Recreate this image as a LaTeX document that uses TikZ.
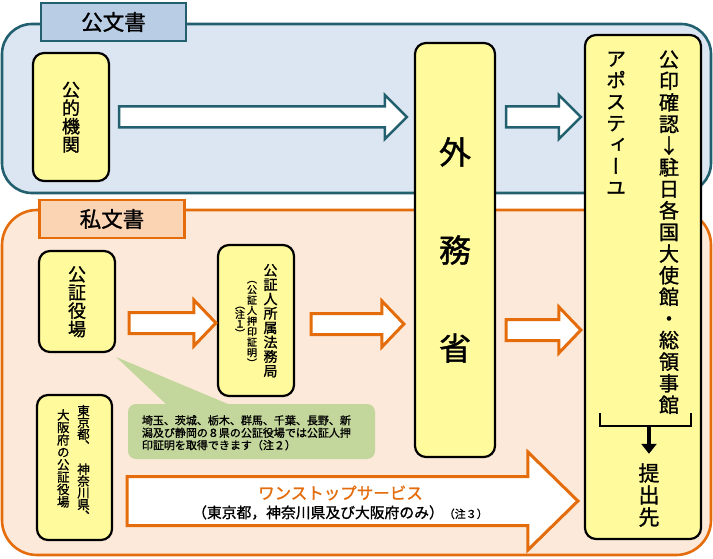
\documentclass[tikz,border=0pt]{standalone}
\usepackage{fontspec}
\setmainfont{Noto Sans CJK JP}[FakeBold=1.2]
\newfontfamily\tatefont[RawFeature=+vert,FakeBold=1.2]{Noto Sans CJK JP}
\usepackage{xcolor}
\usetikzlibrary{calc,arrows.meta}
\definecolor{tealline}{HTML}{23606F}
\definecolor{pubfill}{HTML}{DCE6F2}
\definecolor{pubtab}{HTML}{B9CDE5}
\definecolor{prifill}{HTML}{FDE9D9}
\definecolor{pritab}{HTML}{FBD4B4}
\definecolor{orangeline}{HTML}{E46C0A}
\definecolor{boxfill}{HTML}{FFFA9C}
\definecolor{notegreen}{HTML}{C3D69B}
\makeatletter
\newcommand\tate[2]{\vbox{\offinterlineskip\@tfor\tch:=#2\do{\hbox to 1.2em{\hss\rule[-.5\dimexpr#1\relax]{0pt}{#1}\raisebox{-.38em}{\smash{\tch}}\hss}}}}
\makeatother
\newcommand\blockarrow[6]{\draw[#1] let \p1=#2, \p2=#3 in
  (\x1,\y2+#4) -- (\x2-#6,\y2+#4) -- (\x2-#6,\y2+#5) -- (\x2,\y2)
  -- (\x2-#6,\y2-#5) -- (\x2-#6,\y2-#4) -- (\x1,\y2-#4) -- cycle;}
\begin{document}
\begin{tikzpicture}[x=1pt,y=-1pt,
  panel/.style={line width=2.6pt,inner sep=0pt},
  tab/.style={line width=2.6pt,minimum width=145pt,minimum height=38pt,inner sep=0pt,font=\fontsize{21.5}{21.5}\selectfont},
  ybox/.style={draw=black,fill=boxfill,line width=2.2pt,rounded corners=11pt,inner sep=0pt},
  tatetext/.style={inner sep=0pt,font=\tatefont\fontsize{#1}{#1}\selectfont},
  bluearr/.style={draw=tealline,fill=white,line width=2.5pt},
  orarr/.style={draw=orangeline,fill=white,line width=3pt}]
	\useasboundingbox (0,0) rectangle (713,559);
	% panels
	\node[panel,draw=tealline,fill=pubfill,rounded corners=30pt,minimum width=709pt,minimum height=169pt] (pub) at (356.5,108.5) {};
	\node[panel,draw=orangeline,fill=prifill,rounded corners=35pt,minimum width=709pt,minimum height=345pt] (pri) at (356.5,382.5) {};
	\node[tab,draw=tealline,fill=pubtab] (pubtab) at (113.5,22) {公文書};
	\node[tab,draw=orangeline,fill=pritab] (pritab) at (112,219) {私文書};
	% callout
	\node[fill=notegreen,rounded corners=8pt,minimum width=247pt,minimum height=55pt] (note) at (251.5,431.5) {};
	\coordinate (notetip) at (116,357);
	\fill[notegreen] (notetip) -- ($(note.north west)+(39,1)$) -- ($(note.north west)+(102,1)$) -- cycle;
	\node[anchor=west,align=left,inner sep=0pt,font=\fontsize{11}{12.4}\selectfont] (notetext) at (141.7,432.8) {埼玉、茨城、栃木、群馬、千葉、長野、新\\潟及び静岡の８県の公証役場では公証人押\\印証明を取得できます（注２）};
	% boxes
	\node[ybox,tatetext=18,minimum width=76pt,minimum height=128pt] (kikan) at (71,117) {\tate{18.3pt}{公的機関}};
	\node[ybox,tatetext=32,minimum width=80pt,minimum height=414pt] (gaimu) at (455,250) {\tate{98pt}{外務省}};
	\node[ybox,minimum width=116pt,minimum height=504pt] (apo) at (643,287) {};
	\node[ybox,tatetext=18,minimum width=76pt,minimum height=101pt] (koshou) at (77,301.5) {\tate{18.3pt}{公証役場}};
	\node[ybox,minimum width=76pt,minimum height=151pt] (homu) at (256,320.5) {};
	\node[ybox,minimum width=75pt,minimum height=145pt] (tokyo) at (74.5,467.5) {};
	% vertical texts
	\node[tatetext=14] (homu1) at (270.5,320.5) {\tate{14.4pt}{公証人所属法務局}};
	\node[tatetext=10] (homu2) at (252,321) {\tate{10.5pt}{（公証人押印証明）}};
	\node[tatetext=10] (homu3) at (240,319) {\tate{9.5pt}{（注１）}};
	\node[tatetext=12.5] (tokyo1) at (83.5,463.4) {\tate{11.7pt}{東京都、{}神奈川県、}};
	\node[tatetext=12.5] (tokyo2) at (63.3,458.4) {\tate{12.4pt}{大阪府の公証役場}};
	\node[tatetext=20] (apo1) at (669,232) {\tate{21.6pt}{公印確認{\rmfamily ↓}駐日各国大使館・総領事館}};
	\node[tatetext=20] (apo2) at (616,123) {\tate{21.5pt}{アポスティーユ}};
	\node[tatetext=21] (teishutsu) at (649,495) {\tate{22pt}{提出先}};
	% bracket
	\coordinate (brl) at (600,413);
	\coordinate (brr) at (691,413);
	\coordinate (brm) at (649,426);
	\draw[line width=2.5pt] (brl) -- ++(0,13) -| (brr);
	\draw[line width=4pt,-{Triangle[width=15pt,length=10pt]},shorten >=8pt] (brm) -- (teishutsu.north);
	% arrows
	\blockarrow{bluearr}{($(kikan.east)+(9,0)$)}{($(gaimu.west |- kikan.east)+(-7,0)$)}{10.5pt}{22pt}{22pt}
	\blockarrow{bluearr}{($(gaimu.east |- kikan.east)+(10,0)$)}{($(apo.west |- kikan.east)+(-3,0)$)}{10.5pt}{22pt}{22pt}
	\blockarrow{orarr}{($(koshou.east |- homu.west)+(13,2.5)$)}{($(homu.west)+(-1,2.5)$)}{10.5pt}{23pt}{22pt}
	\blockarrow{orarr}{($(homu.east)+(16,3.5)$)}{($(gaimu.west |- homu.east)+(-10,3.5)$)}{10.5pt}{23pt}{22pt}
	\blockarrow{orarr}{($(gaimu.east |- homu.east)+(10,9.5)$)}{($(apo.west |- homu.east)+(-3,9.5)$)}{10.5pt}{23pt}{22pt}
	\blockarrow{orarr}{($(tokyo.east)+(14,33.5)$)}{($(apo.west |- tokyo.east)+(-6,33.5)$)}{24.5pt}{49pt}{50pt}
	\node[text=orangeline,inner sep=0pt,font=\fontsize{16.5}{16.5}\selectfont] (onestop) at (340.5,493) {ワンストップサービス};
	\node[anchor=west,inner sep=0pt,font=\fontsize{14.8}{14.8}\selectfont] (onestopnote) at (192,512.5) {（東京都，神奈川県及び大阪府のみ）{\fontsize{11}{11}\selectfont（注３）}};
\end{tikzpicture}
\end{document}
